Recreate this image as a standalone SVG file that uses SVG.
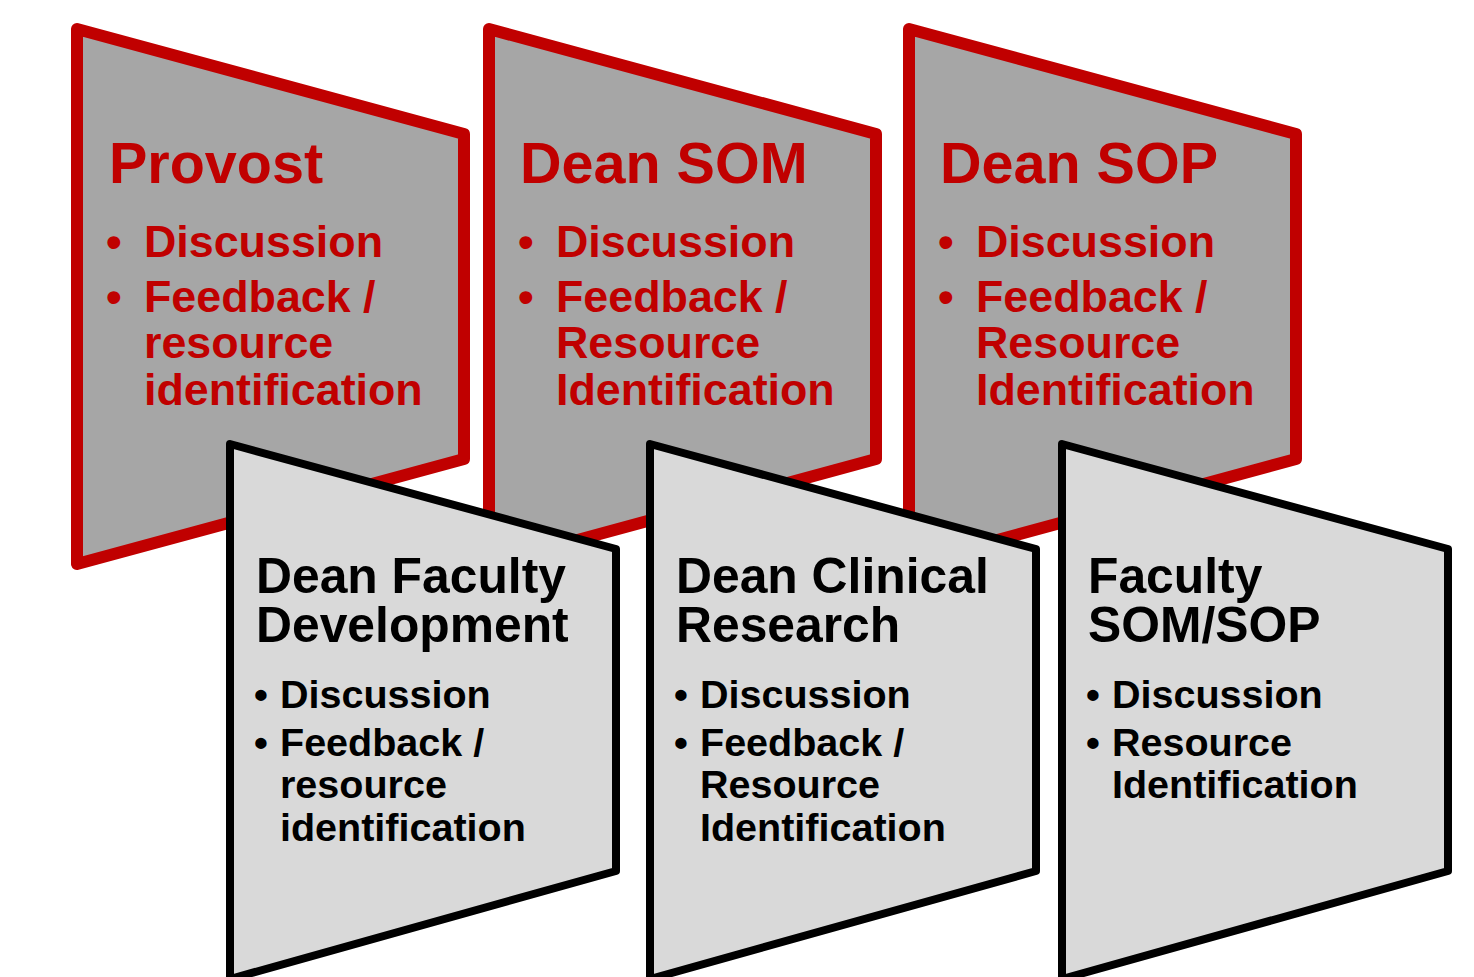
<svg xmlns="http://www.w3.org/2000/svg" width="1474" height="977" viewBox="0 0 1474 977">
<style>
.top{fill:#A6A6A6;stroke:#C00000;stroke-width:12;stroke-linejoin:round}
.bot{fill:#D9D9D9;stroke:#000;stroke-width:8;stroke-linejoin:round}
text{font-family:"Liberation Sans",Arial,sans-serif;font-weight:bold}
.rt{fill:#C00000;font-size:57.5px}
.ri{fill:#C00000;font-size:44.8px}
.bt{fill:#000;font-size:49.8px}
.bi{fill:#000;font-size:39.5px}
</style>
<rect width="1474" height="977" fill="#fff"/>
<g id="connectors"/>
<g id="provost">
<polygon class="top" points="77,29 464,134 464,459 77,564"/>
<text class="rt" x="109" y="183">Provost</text>
<text class="ri" x="106" y="257">•</text>
<text class="ri" x="144" y="257">Discussion</text>
<text class="ri" x="106" y="312">•</text>
<text class="ri" x="144" y="312">Feedback /</text>
<text class="ri" x="144" y="358">resource</text>
<text class="ri" x="144" y="405">identification</text>
</g>
<g id="dean-som">
<polygon class="top" points="489,29 876,134 876,459 489,564"/>
<text class="rt" x="520" y="183">Dean SOM</text>
<text class="ri" x="518" y="257">•</text>
<text class="ri" x="556" y="257">Discussion</text>
<text class="ri" x="518" y="312">•</text>
<text class="ri" x="556" y="312">Feedback /</text>
<text class="ri" x="556" y="358">Resource</text>
<text class="ri" x="556" y="405">Identification</text>
</g>
<g id="dean-sop">
<polygon class="top" points="909,29 1296,134 1296,459 909,564"/>
<text class="rt" x="940" y="183">Dean SOP</text>
<text class="ri" x="938" y="257">•</text>
<text class="ri" x="976" y="257">Discussion</text>
<text class="ri" x="938" y="312">•</text>
<text class="ri" x="976" y="312">Feedback /</text>
<text class="ri" x="976" y="358">Resource</text>
<text class="ri" x="976" y="405">Identification</text>
</g>
<g id="dean-faculty-development">
<polygon class="bot" points="230,444 616,549 616,871 230,979"/>
<text class="bt" x="256" y="593">Dean Faculty</text>
<text class="bt" x="256" y="642">Development</text>
<text class="bi" x="254" y="708">•</text>
<text class="bi" x="280" y="708">Discussion</text>
<text class="bi" x="254" y="756">•</text>
<text class="bi" x="280" y="756">Feedback /</text>
<text class="bi" x="280" y="798">resource</text>
<text class="bi" x="280" y="841">identification</text>
</g>
<g id="dean-clinical-research">
<polygon class="bot" points="650,444 1036,549 1036,871 650,979"/>
<text class="bt" x="676" y="593">Dean Clinical</text>
<text class="bt" x="676" y="642">Research</text>
<text class="bi" x="674" y="708">•</text>
<text class="bi" x="700" y="708">Discussion</text>
<text class="bi" x="674" y="756">•</text>
<text class="bi" x="700" y="756">Feedback /</text>
<text class="bi" x="700" y="798">Resource</text>
<text class="bi" x="700" y="841">Identification</text>
</g>
<g id="faculty-som-sop">
<polygon class="bot" points="1062,444 1448,549 1448,871 1062,979"/>
<text class="bt" x="1088" y="593">Faculty</text>
<text class="bt" x="1088" y="642">SOM/SOP</text>
<text class="bi" x="1086" y="708">•</text>
<text class="bi" x="1112" y="708">Discussion</text>
<text class="bi" x="1086" y="756">•</text>
<text class="bi" x="1112" y="756">Resource</text>
<text class="bi" x="1112" y="798">Identification</text>
</g>
</svg>
